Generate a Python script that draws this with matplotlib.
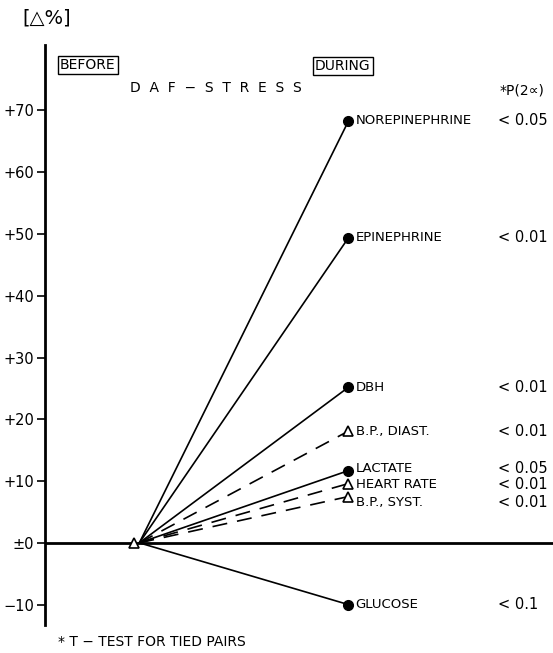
import matplotlib.pyplot as plt

# change in % from before to during DAF stress
names = ['NOREPINEPHRINE', 'EPINEPHRINE', 'DBH', 'B.P., DIAST.',
         'LACTATE', 'HEART RATE', 'B.P., SYST.', 'GLUCOSE']
during = [68.3, 49.4, 25.2, 18.1, 11.7, 9.6, 7.5, -10.0]
pvals = ['< 0.05', '< 0.01', '< 0.01', '< 0.01', '< 0.05', '< 0.01', '< 0.01', '< 0.1']
dashed = [False, False, False, True, False, True, True, False]
label_shift = [0, 0, 0, 0, 0.4, -0.2, -1.0, 0]

yticks = [70, 60, 50, 40, 30, 20, 10, 0, -10]
ytick_labels = ['+70', '+60', '+50', '+40', '+30', '+20', '+10', '±0', '−10']

x_before = 1.0
x_during = 3.41

plt.rcParams['font.family'] = ['DejaVu Sans Condensed', 'DejaVu Sans']

W, H = 553, 653
fig = plt.figure(figsize=(W / 100, H / 100), dpi=100)
ax = fig.add_axes([45 / W, 28 / H, 508 / W, 580 / H])
ax.set_xlim(0, 508 / 89)
ax.set_ylim(-13.3, 80.6)

for s in ['top', 'right', 'bottom']:
    ax.spines[s].set_visible(False)
ax.spines['left'].set_linewidth(2)
ax.axhline(0, color='black', lw=2)
ax.set_xticks([])
ax.set_yticks(yticks)
ax.set_yticklabels(ytick_labels, fontsize=10.5)
ax.tick_params(axis='y', length=6, width=1.2, pad=2)

for name, v, p, d, sh in zip(names, during, pvals, dashed, label_shift):
    ls = (0, (9, 6)) if d else '-'
    ax.plot([x_before + 0.06, x_during], [0, v], color='black', lw=1.2, ls=ls)
    if d:
        ax.plot(x_during, v, marker='^', ms=7, mfc='white', mec='black', mew=1.2)
    else:
        ax.plot(x_during, v, marker='o', ms=7, color='black')
    ax.text(x_during + 0.08, v + sh, name, fontsize=9.5, va='center', ha='left')
    ax.text(5.09, v + sh, p, fontsize=10.5, va='center', ha='left')

ax.plot(x_before, 0, marker='^', ms=7, mfc='white', mec='black', mew=1.2, zorder=5)

box = dict(boxstyle='square,pad=0.15', fc='white', ec='black', lw=1)
fig.text(60 / W, 1 - 65 / H, 'BEFORE', fontsize=10, va='center', ha='left', bbox=box)
fig.text(315 / W, 1 - 66 / H, 'DURING', fontsize=10, va='center', ha='left', bbox=box)
fig.text(130 / W, 1 - 88 / H, 'D  A  F  −  S  T  R  E  S  S', fontsize=10,
         va='center', ha='left')
fig.text(500 / W, 1 - 90 / H, '*P(2∝)', fontsize=10, va='center', ha='left')
fig.text(22 / W, 1 - 18 / H, '[△%]', fontsize=14, va='center', ha='left')
fig.text(58 / W, 1 - 642 / H, '* T − TEST FOR TIED PAIRS', fontsize=10,
         va='center', ha='left')

fig.savefig('out.png', dpi=100)
